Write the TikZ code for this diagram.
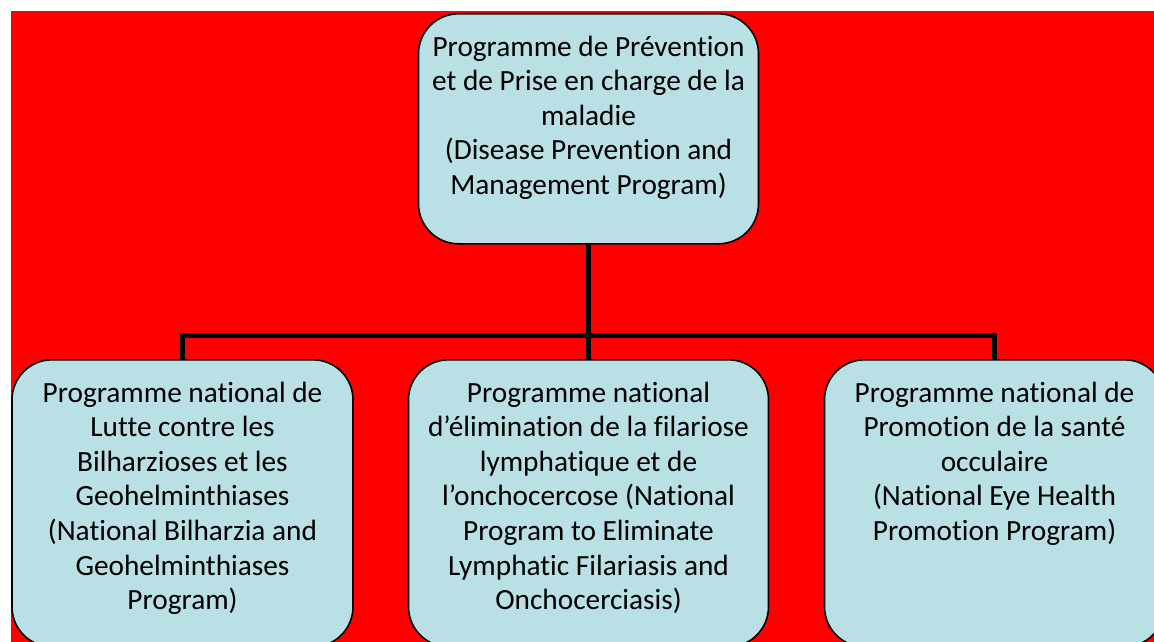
\documentclass[tikz,border=0pt]{standalone}
\usepackage{fontspec}
\setmainfont{Carlito}[Ligatures={TeX,NoCommon}]
\usepackage{tikz}

\definecolor{boxblue}{RGB}{185,224,228}

\begin{document}
\begin{tikzpicture}[x=1pt,y=-1pt,semithick,
    prog/.style={draw=black,line width=1.6pt,fill=boxblue,rounded corners=40pt,
      inner xsep=0pt,inner ysep=18pt,anchor=north,
      font=\fontsize{29.3}{34.6}\selectfont},
    bus/.style={draw=black,line width=5pt}]
  \useasboundingbox (0,0) rectangle (1154,642);
  \fill[red] (11,11) rectangle (1154,642);
  \coordinate (split) at (588.5,335.5);
  \node[prog] (dppm) at (588.5,13)
    {\parbox[t][194pt][t]{340pt}{\centering\strut Programme de Prévention\\
      et de Prise en charge de la\\ maladie\\ (Disease Prevention and\\
      Management Program)}};
  \node[prog] (pnlbg) at (182.5,359)
    {\parbox[t][251pt][t]{341pt}{\centering\strut Programme national de\\
      Lutte contre les\\ Bilharzioses et les\\ Geohelminthiases\\
      (National Bilharzia and\\ Geohelminthiases\\ Program)}};
  \node[prog] (pnelfo) at (588.5,359)
    {\parbox[t][251pt][t]{360pt}{\centering\strut Programme national\\
      d’élimination de la filariose\\ lymphatique et de\\
      l’onchocercose (National\\ Program to Eliminate\\
      Lymphatic Filariasis and\\ Onchocerciasis)}};
  \node[prog] (pnpso) at (994.5,359)
    {\parbox[t][251pt][t]{340pt}{\centering\strut Programme national de\\
      Promotion de la santé\\ occulaire\\ (National Eye Health\\
      Promotion Program)}};
  \path[bus] (dppm.south) -- (pnelfo.north)
    (pnlbg.north) -- (pnlbg.north |- split) -- (pnpso.north |- split)
    -- (pnpso.north);
\end{tikzpicture}
\end{document}
